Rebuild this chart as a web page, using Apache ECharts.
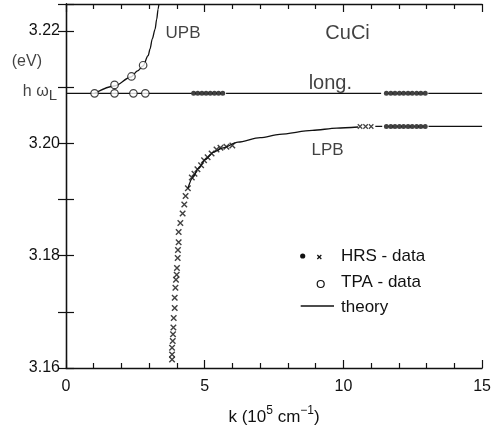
<!DOCTYPE html>
<html><head><meta charset="utf-8">
<script src="https://cdn.jsdelivr.net/npm/echarts@6/dist/echarts.min.js"></script>
<style>html,body{margin:0;padding:0;background:#fff}#c{width:494px;height:431px}</style>
</head><body><div id="c"></div>
<script>
// ---- tick labels ----
const xTickLabels = ['0', '5', '10', '15'];
const yTickLabels = ['3.16', '3.18', '3.20', '3.22'];

// ---- HRS data: filled dots ----
const hrsDotK = [4.60, 4.75, 4.90, 5.05, 5.20, 5.35, 5.50, 5.65,
  11.55, 11.71, 11.86, 12.02, 12.17, 12.33, 12.48, 12.64, 12.79, 12.95,
  11.55, 11.71, 11.86, 12.02, 12.17, 12.33, 12.48, 12.64, 12.79, 12.95];
const hrsDotE = [3.2089, 3.2089, 3.2089, 3.2089, 3.2089, 3.2089, 3.2089, 3.2089,
  3.2089, 3.2089, 3.2089, 3.2089, 3.2089, 3.2089, 3.2089, 3.2089, 3.2089, 3.2089,
  3.2030, 3.2030, 3.2030, 3.2030, 3.2030, 3.2030, 3.2030, 3.2030, 3.2030, 3.2030];

// ---- HRS data: crosses ----
const hrsCrossK = [3.823, 3.823, 3.823, 3.848, 3.858, 3.872, 3.883, 3.919, 3.919, 3.944,
  3.965, 3.990, 4.001, 4.026, 4.036, 4.061, 4.061, 4.122, 4.204, 4.264, 4.311, 4.393,
  4.535, 4.631, 4.738, 4.870, 4.977, 5.105, 5.248, 5.426, 5.568, 5.782, 5.996];
const hrsCrossE = [3.1615, 3.1624, 3.1636, 3.1648, 3.1660, 3.1672, 3.1689, 3.1707, 3.1725, 3.1743,
  3.1757, 3.1766, 3.1778, 3.1796, 3.1810, 3.1824, 3.1842, 3.1858, 3.1875, 3.1891, 3.1906, 3.1920,
  3.1939, 3.1946, 3.1954, 3.1961, 3.1970, 3.1975, 3.1982, 3.1989, 3.1992, 3.1994, 3.1996];
const hrsSmallCrossK = [10.60, 10.80, 11.00];
const hrsSmallCrossE = [3.2030, 3.2030, 3.2030];

// ---- TPA data: open circles ----
const tpaK = [1.03, 1.75, 2.43, 2.86, 1.75, 2.36, 2.78];
const tpaE = [3.2089, 3.2089, 3.2089, 3.2089, 3.2104, 3.2119, 3.2139];

// ---- theory curves (null = gap in the drawn line) ----
const longK = [0, 4.52, 4.56, 5.77, 11.36, 11.40, 13.06, 15];
const longE = [3.2089, 3.2089, null, 3.2089, 3.2089, null, 3.2089, 3.2089];
const upbK = [1.03, 1.75, 2.34, 2.58, 2.78, 2.96, 3.03, 3.11, 3.21, 3.27, 3.32, 3.35];
const upbE = [3.2089, 3.2102, 3.2118, 3.2129, 3.2138, 3.2156, 3.2168, 3.2186, 3.2203, 3.2221, 3.2239, 3.2248];
const lpbK = [4.39, 4.57, 4.77, 5.02, 5.31, 5.66, 6.20, 7.00, 7.70, 8.88, 9.76, 10.53, 10.56, 11.15, 11.40, 11.44, 13.07, 15];
const lpbE = [3.1919, 3.1939, 3.1955, 3.1971, 3.1984, 3.1992, 3.2002, 3.2010, 3.2016, 3.2023, 3.2027, 3.2029, null, 3.2030, 3.2030, null, 3.2030, 3.2030];

const FONT = '"Liberation Sans", Arial, Helvetica, sans-serif';
const INK = '#111';
const pairs = (a, b) => a.map((v, i) => [v, b[i] === null ? '-' : b[i]]);
const crossPath = 'path://M0,0L10,10M10,0L0,10';

const axisLineStyle = { lineStyle: { color: INK, width: 1.3 } };
const chart = echarts.init(document.getElementById('c'));

chart.setOption({
  animation: false,
  backgroundColor: '#fff',
  textStyle: { fontFamily: FONT, color: INK },
  grid: { left: 66, right: 7, top: 4, bottom: 60 },
  xAxis: [{
    type: 'value', min: 0, max: 15, interval: 5, position: 'bottom',
    axisLine: axisLineStyle,
    axisTick: { inside: true, length: 8, lineStyle: { color: INK, width: 1.2 } },
    minorTick: { show: true, splitNumber: 5, length: 5, lineStyle: { color: INK, width: 1.2 } },
    splitLine: { show: false }, minorSplitLine: { show: false },
    axisLabel: {
      fontSize: 16, color: INK, margin: 11, fontFamily: FONT,
      formatter: v => { const i = Math.round(v / 5); return Math.abs(v - i * 5) < 1e-6 && xTickLabels[i] !== undefined ? xTickLabels[i] : ''; }
    },
    name: '{n|k (10}{s|5}{n| cm}{s|−1}{n|)}',
    nameLocation: 'middle', nameGap: 37,
    nameTextStyle: {
      rich: {
        n: { fontSize: 17, fontFamily: FONT, color: INK, lineHeight: 21, verticalAlign: 'bottom' },
        s: { fontSize: 12, fontFamily: FONT, color: INK, lineHeight: 21, verticalAlign: 'top' }
      }
    }
  }, {
    type: 'value', min: 0, max: 15, interval: 5, position: 'top',
    axisLine: axisLineStyle,
    axisTick: { inside: true, length: 8, lineStyle: { color: INK, width: 1.2 } },
    minorTick: { show: true, splitNumber: 5, length: 5, lineStyle: { color: INK, width: 1.2 } },
    splitLine: { show: false }, axisLabel: { show: false }
  }],
  yAxis: [{
    type: 'value', min: 3.16, max: 3.2248, interval: 0.01, position: 'left',
    axisLine: axisLineStyle,
    axisTick: { inside: true, length: 8, lineStyle: { color: INK, width: 1.2 } },
    splitLine: { show: false },
    axisLabel: {
      fontSize: 16, color: INK, margin: 6, fontFamily: FONT,
      formatter: v => { const s = v.toFixed(2); return (Math.abs(v - parseFloat(s)) < 1e-6 && yTickLabels.includes(s)) ? s : ''; }
    }
  }, {
    type: 'value', min: 3.16, max: 3.2248, interval: 0.01, position: 'right',
    axisLine: axisLineStyle,
    axisTick: { inside: true, length: 8, lineStyle: { color: INK, width: 1.2 } },
    splitLine: { show: false }, axisLabel: { show: false }
  }],
  series: [
    { type: 'line', name: 'long', data: pairs(longK, longE), showSymbol: false, connectNulls: false,
      lineStyle: { color: INK, width: 1.3 }, z: 2, silent: true },
    { type: 'line', name: 'UPB', data: pairs(upbK, upbE), showSymbol: false, smooth: 0.3, smoothMonotone: 'x',
      lineStyle: { color: INK, width: 1.3 }, z: 2, silent: true },
    { type: 'line', name: 'LPB', data: pairs(lpbK, lpbE), showSymbol: false, smooth: 0.3, smoothMonotone: 'x', connectNulls: false,
      lineStyle: { color: INK, width: 1.3 }, z: 2, silent: true },
    { type: 'scatter', name: 'HRS dots', data: pairs(hrsDotK, hrsDotE), symbol: 'circle', symbolSize: 5,
      itemStyle: { color: INK }, z: 4, silent: true },
    { type: 'scatter', name: 'HRS crosses', data: pairs(hrsCrossK, hrsCrossE), symbol: crossPath, symbolSize: 5.5,
      itemStyle: { color: INK, borderColor: INK, borderWidth: 1.4 }, z: 4, silent: true },
    { type: 'scatter', name: 'HRS small crosses', data: pairs(hrsSmallCrossK, hrsSmallCrossE), symbol: crossPath, symbolSize: 4.5,
      itemStyle: { color: INK, borderColor: INK, borderWidth: 1.2 }, z: 4, silent: true },
    { type: 'scatter', name: 'TPA', data: pairs(tpaK, tpaE), symbol: 'circle', symbolSize: 7.5,
      itemStyle: { color: '#fff', borderColor: INK, borderWidth: 1.2 }, z: 5, silent: true },
    { type: 'scatter', name: 'annotations', symbolSize: 0, silent: true, clip: false, z: 6,
      label: { show: true, color: INK, fontFamily: FONT },
      data: [
        { value: [4.22, 3.2196], label: { formatter: 'UPB', fontSize: 17, position: 'inside' } },
        { value: [10.15, 3.2195], label: { formatter: 'CuCi', fontSize: 20, position: 'inside' } },
        { value: [9.53, 3.2107], label: { formatter: 'long.', fontSize: 20, position: 'inside' } },
        { value: [9.43, 3.1988], label: { formatter: 'LPB', fontSize: 17, position: 'inside' } },
        { value: [0, 3.2146], label: { formatter: '(eV)', fontSize: 16, position: 'left', distance: 24 } },
        { value: [0, 3.2089], label: { formatter: '{h|h ω}{l|L}', position: 'left', distance: 9,
            rich: { h: { fontSize: 16, fontFamily: FONT, color: INK, padding: [0, 0, 4, 0] },
                    l: { fontSize: 15, fontFamily: FONT, color: INK, padding: [6, 0, 0, 0] } } } }
      ]
    }
  ],
  graphic: [
    { type: 'circle', shape: { cx: 302.7, cy: 256, r: 2.6 }, style: { fill: INK }, silent: true },
    { type: 'line', shape: { x1: 317.3, y1: 255, x2: 321.3, y2: 259 }, style: { stroke: INK, lineWidth: 1.2 }, silent: true },
    { type: 'line', shape: { x1: 321.3, y1: 255, x2: 317.3, y2: 259 }, style: { stroke: INK, lineWidth: 1.2 }, silent: true },
    { type: 'text', left: 341, top: 248, style: { text: 'HRS - data', font: '17px ' + FONT, fill: INK }, silent: true },
    { type: 'circle', shape: { cx: 320.7, cy: 284, r: 3.5 }, style: { fill: '#fff', stroke: INK, lineWidth: 1.2 }, silent: true },
    { type: 'text', left: 341, top: 274, style: { text: 'TPA - data', font: '17px ' + FONT, fill: INK }, silent: true },
    { type: 'line', shape: { x1: 300.7, y1: 306, x2: 334, y2: 306 }, style: { stroke: INK, lineWidth: 1.3 }, silent: true },
    { type: 'text', left: 341, top: 299, style: { text: 'theory', font: '17px ' + FONT, fill: INK }, silent: true }
  ]
});
</script>
</body></html>
